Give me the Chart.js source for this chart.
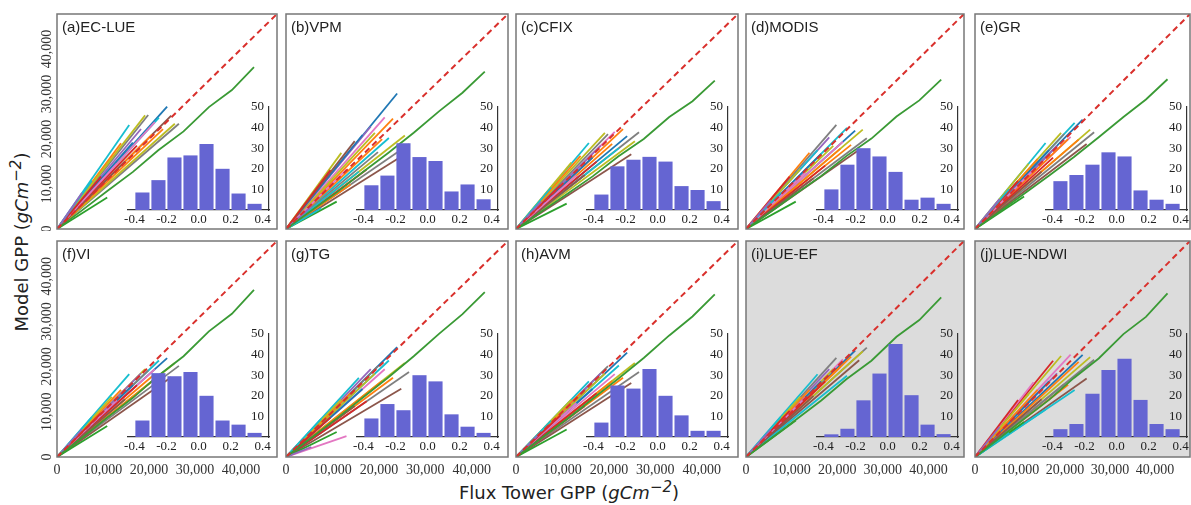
<!DOCTYPE html>
<html>
<head>
<meta charset="utf-8">
<script src="https://cdn.jsdelivr.net/npm/chart.js@4"></script>
<style>
body { margin: 0; background: #fff; }
#wrap { position: relative; width: 1191px; height: 505px; overflow: hidden; font-family: "Liberation Sans", Arial, sans-serif; color: #222; }
canvas { position: absolute; }
.tag { position: absolute; font-size: 15px; line-height: 1; white-space: nowrap; }
.ytitle, .xtitle { position: absolute; font-family: "DejaVu Sans", sans-serif; font-size: 18px; line-height: 1; white-space: nowrap; }
.ytitle { left: 20px; top: 242px; transform: translate(-50%, -50%) rotate(-90deg); }
.xtitle { left: 569px; top: 491px; transform: translate(-50%, -50%); }
</style>
</head>
<body>
<div id="wrap">
  <div class="ytitle">Model GPP (<i>gCm<sup>−2</sup></i>)</div>
  <div class="xtitle">Flux Tower GPP (<i>gCm<sup>−2</sup></i>)</div>
</div>
<script>
// panel names
const models = ['(a)EC-LUE', '(b)VPM', '(c)CFIX', '(d)MODIS', '(e)GR', '(f)VI', '(g)TG', '(h)AVM', '(i)LUE-EF', '(j)LUE-NDWI'];

// cumulative flux tower GPP at the end of each site record (same for every model)
const siteFluxGPP = [5450, 7570, 9570, 10910, 11910, 13020, 13910, 14800, 15690, 16470, 17360, 18250, 19140, 19810, 20700, 21260, 22150, 23040, 23930, 24820, 25600, 26490];
const siteColors = ['#9467bd', '#17becf', '#d62728', '#2ca02c', '#bcbd22', '#e377c2', '#ff7f0e', '#8c564b', '#17becf', '#1f77b4', '#d62728',
                    '#9467bd', '#bcbd22', '#7f7f7f', '#ff7f0e', '#e377c2', '#17becf', '#ff7f0e', '#1f77b4', '#8c564b', '#bcbd22', '#7f7f7f'];

// cumulative model GPP at the end of each site record
const ecLue   = [8030, 10760, 11660, 6980, 15720, 14540, 19070, 15030, 23100, 19230, 18510, 22240, 25270, 25340, 21020, 23740, 24740, 22220, 27210, 25200, 23390, 23400];
const vpm     = [4980, 4610, 13120, 6090, 16930, 13220, 9890, 19540, 12750, 20910, 13220, 22790, 21380, 17100, 19970, 24820, 20240, 24560, 30130, 16130, 20790, 18830];
const cfix    = [6090, 9220, 9720, 5650, 14750, 11900, 16240, 12020, 19120, 15890, 14980, 18530, 21380, 21120, 18920, 21580, 17990, 22220, 20650, 16630, 19490, 21520];
const modis   = [6370, 8070, 11660, 6090, 13300, 12560, 16950, 11270, 17530, 16720, 14100, 20380, 18460, 23130, 17870, 19420, 22490, 18710, 21870, 17640, 22090, 20170];
const gr      = [6640, 8840, 10690, 7200, 14510, 13220, 15540, 12770, 19120, 17560, 15870, 18530, 21380, 21120, 19970, 20500, 23610, 19880, 24300, 18900, 22090, 21520];
const vi      = [6090, 8840, 9720, 6870, 13300, 12560, 14830, 12770, 18320, 15890, 15870, 18530, 19440, 19110, 17870, 19420, 21360, 18710, 21870, 17640, 20790, 20170];
const tg      = [2210, 8450, 8750, 5540, 12700, 4630, 14130, 11270, 17530, 15050, 12340, 19460, 18460, 20110, 16810, 19420, 21360, 17540, 24300, 15120, 20790, 18830];
const avm     = [5540, 8070, 9230, 6090, 12700, 11900, 14130, 11270, 16730, 15050, 14100, 18530, 18460, 20110, 16810, 18350, 20240, 17540, 23080, 16380, 20790, 18830];
const lueEf   = [6090, 8840, 10200, 8080, 13300, 13220, 14830, 13530, 18320, 16720, 16750, 19460, 19440, 21920, 19970, 21580, 17990, 22220, 23570, 21420, 23390, 24200];
const lueNdwi = [6640, 5380, 12630, 7750, 13900, 16530, 14830, 12770, 10520, 16720, 21300, 18530, 22350, 16090, 15970, 22660, 14840, 21050, 22590, 17390, 22090, 21520];

// the one long record (green line)
const longSiteFlux = [0, 5500, 11000, 16500, 22000, 27500, 33000, 38000, 42800];
const ecLueLong   = [0, 4200, 8500, 12700, 17500, 21700, 27100, 30900, 36000];
const vpmLong     = [0, 4100, 8200, 12600, 16900, 21400, 26200, 30300, 35000];
const cfixLong    = [0, 3900, 7800, 11700, 16100, 20000, 24900, 28400, 33000];
const modisLong   = [0, 3900, 7900, 11800, 16200, 20100, 25000, 28600, 33200];
const grLong      = [0, 3900, 7900, 11900, 16000, 20400, 24900, 28800, 33300];
const viLong      = [0, 4300, 8800, 13100, 18000, 22300, 27800, 31700, 37000];
const tgLong      = [0, 4300, 8600, 13100, 17600, 22300, 27300, 31600, 36500];
const avmLong     = [0, 4200, 8400, 12900, 17300, 21900, 26900, 31100, 36000];
const lueEfLong   = [0, 4100, 8300, 12500, 17200, 21300, 26600, 30300, 35300];
const lueNdwiLong = [0, 4200, 8500, 12700, 17500, 21800, 27200, 31000, 36200];

// 1:1 line
const oneToOne = [0, 47800];

// relative error histograms
const histBins = [-0.35, -0.25, -0.15, -0.05, 0.05, 0.15, 0.25, 0.35];
const ecLueHist   = [8.5, 14.5, 25.5, 26.5, 32, 20, 8, 3];
const vpmHist     = [12, 16.7, 32.4, 25.7, 23.8, 9, 12.4, 5.2];
const cfixHist    = [7.5, 21.2, 24.4, 25.8, 23.5, 11.6, 9.7, 4.3];
const modisHist   = [10, 22, 30, 26, 18.5, 5, 6, 3];
const grHist      = [14, 17, 22, 28, 26, 9.5, 5, 3];
const viHist      = [8, 31, 29.5, 31.5, 20, 8, 6, 2];
const tgHist      = [9, 16, 13, 30, 27, 11, 5, 2];
const avmHist     = [7, 25, 23.5, 33, 20, 10.5, 3, 3];
const lueEfHist   = [1.3, 4, 17.8, 30.8, 45.2, 20.3, 6, 1.4];
const lueNdwiHist = [3.8, 6.3, 21, 32.5, 38, 18, 6.3, 3.8];

// tick labels
const gppTicks = [0, 10000, 20000, 30000, 40000];
const histTicks = [-0.4, -0.2, 0, 0.2, 0.4];
const countTicks = [10, 20, 30, 40, 50];

const modelEnds = [ecLue, vpm, cfix, modis, gr, vi, tg, avm, lueEf, lueNdwi];
const modelLong = [ecLueLong, vpmLong, cfixLong, modisLong, grLong, viLong, tgLong, avmLong, lueEfLong, lueNdwiLong];
const modelHist = [ecLueHist, vpmHist, cfixHist, modisHist, grHist, viHist, tgHist, avmHist, lueEfHist, lueNdwiHist];

// layout of the panel frames
const cols = [[57, 277], [286, 508], [516, 738], [746, 964], [975, 1190]];
const rows = [[14, 229], [241, 457]];
const SERIF = '"Liberation Serif", "Times New Roman", serif';
const BAR = '#6565d2';

const framePlugin = {
    id: 'frame',
    beforeDatasetsDraw(chart, args, opts) {
        const a = chart.chartArea;
        const ctx = chart.ctx;
        ctx.save();
        ctx.fillStyle = opts.bg;
        ctx.fillRect(a.left, a.top, a.right - a.left, a.bottom - a.top);
        ctx.restore();
    },
    afterDraw(chart) {
        const a = chart.chartArea;
        const ctx = chart.ctx;
        ctx.save();
        ctx.strokeStyle = '#777';
        ctx.lineWidth = 1.5;
        ctx.strokeRect(a.left, a.top, a.right - a.left, a.bottom - a.top);
        ctx.restore();
    }
};

// rotated y tick labels (read bottom to top, like the original)
const yLabelPlugin = {
    id: 'yLabels',
    afterDraw(chart, args, opts) {
        if (!opts.show) return;
        const s = chart.scales.y;
        const ctx = chart.ctx;
        ctx.save();
        ctx.font = '14px ' + SERIF;
        ctx.fillStyle = '#333';
        ctx.textAlign = 'center';
        ctx.textBaseline = 'middle';
        s.ticks.forEach((t, i) => {
            ctx.save();
            ctx.translate(s.right - 10, s.getPixelForTick(i));
            ctx.rotate(-Math.PI / 2);
            ctx.fillText(t.label, 0, 0);
            ctx.restore();
        });
        ctx.restore();
    }
};

const wrap = document.getElementById('wrap');

function addCanvas(left, top, width, height) {
    const c = document.createElement('canvas');
    c.width = width;
    c.height = height;
    c.style.left = left + 'px';
    c.style.top = top + 'px';
    c.style.width = width + 'px';
    c.style.height = height + 'px';
    wrap.appendChild(c);
    return c;
}

function drawPanel(m) {
    const r = Math.floor(m / 5), c = m % 5;
    const [fl, fr] = cols[c];
    const [ft, fb] = rows[r];
    const padL = c === 0 ? 24 : 6, padR = 8, padT = 2, padB = r === 1 ? 26 : 2;
    const canvas = addCanvas(fl - padL, ft - padT, fr - fl + padL + padR, fb - ft + padT + padB);

    const datasets = [{
        data: oneToOne.map(v => ({ x: v, y: v })),
        borderColor: '#d9302c', borderWidth: 2, borderDash: [6, 4]
    }];
    datasets.push({
        data: longSiteFlux.map((x, i) => ({ x: x, y: modelLong[m][i] })),
        borderColor: '#3a9a35', borderWidth: 1.8
    });
    siteFluxGPP.forEach((x, i) => {
        datasets.push({
            data: [{ x: 0, y: 0 }, { x: x, y: modelEnds[m][i] }],
            borderColor: siteColors[i], borderWidth: 1.8
        });
    });

    new Chart(canvas.getContext('2d'), {
        type: 'scatter',
        data: { datasets: datasets },
        options: {
            responsive: false,
            animation: false,
            events: [],
            showLine: true,
            elements: { point: { radius: 0 } },
            layout: { padding: { left: 0, right: padR, top: padT, bottom: 0 } },
            plugins: {
                legend: { display: false },
                tooltip: { enabled: false },
                frame: { bg: m >= 8 ? '#dcdcdc' : '#ffffff' },
                yLabels: { show: c === 0 }
            },
            scales: {
                x: {
                    type: 'linear', min: 0, max: 47800,
                    grid: { display: false, drawTicks: false }, border: { display: false },
                    afterBuildTicks: s => { s.ticks = gppTicks.map(v => ({ value: v })); },
                    ticks: { display: r === 1, font: { family: SERIF, size: 14 }, color: '#333', padding: 5, maxRotation: 0, autoSkip: false },
                    afterFit: s => { s.height = padB; s.paddingLeft = 0; s.paddingRight = 0; }
                },
                y: {
                    type: 'linear', min: 0, max: 47800,
                    grid: { display: false, drawTicks: false }, border: { display: false },
                    afterBuildTicks: s => { s.ticks = gppTicks.map(v => ({ value: v })); },
                    ticks: { display: false },
                    afterFit: s => { s.width = padL; s.paddingTop = 0; s.paddingBottom = 0; }
                }
            }
        },
        plugins: [framePlugin, yLabelPlugin]
    });

    const tag = document.createElement('div');
    tag.className = 'tag';
    tag.textContent = models[m];
    tag.style.left = (fl + 5) + 'px';
    tag.style.top = (ft + 5) + 'px';
    wrap.appendChild(tag);
}

function drawInset(m) {
    const r = Math.floor(m / 5), c = m % 5;
    const fl = cols[c][0], ft = rows[r][0];
    const aL = fl + 71, aR = fl + 212, aT = ft + 93, aB = ft + 196;
    const pl = 8, pr = 4, pt = 9, pb = 18;
    const canvas = addCanvas(aL - pl, aT - pt, aR - aL + pl + pr, aB - aT + pt + pb);

    new Chart(canvas.getContext('2d'), {
        type: 'bar',
        data: {
            datasets: [{
                data: histBins.map((b, i) => ({ x: b, y: modelHist[m][i] })),
                backgroundColor: BAR,
                barPercentage: 0.88,
                categoryPercentage: 1
            }]
        },
        options: {
            responsive: false,
            animation: false,
            events: [],
            layout: { padding: { left: pl, right: pr, top: pt, bottom: 0 } },
            plugins: { legend: { display: false }, tooltip: { enabled: false } },
            scales: {
                x: {
                    type: 'linear', min: -0.44, max: 0.44, offset: false,
                    grid: { display: false, drawTicks: false },
                    border: { display: true, color: '#333', width: 1.2 },
                    afterBuildTicks: s => { s.ticks = histTicks.map(v => ({ value: v })); },
                    ticks: { font: { family: SERIF, size: 13 }, color: '#222', padding: 2, maxRotation: 0, autoSkip: false,
                             callback: v => v.toFixed(1) },
                    afterFit: s => { s.height = pb; s.paddingLeft = 0; s.paddingRight = 0; }
                },
                y: {
                    position: 'right', min: 0, max: 50,
                    grid: { display: false, drawTicks: false },
                    border: { display: true, color: '#333', width: 1.2 },
                    afterBuildTicks: s => { s.ticks = countTicks.map(v => ({ value: v })); },
                    ticks: { mirror: true, padding: -5, font: { family: SERIF, size: 13 }, color: '#222' },
                    afterFit: s => { s.width = 0; s.paddingTop = 0; s.paddingBottom = 0; }
                }
            }
        }
    });
}

for (let m = 0; m < models.length; m++) drawPanel(m);
for (let m = 0; m < models.length; m++) drawInset(m);
</script>
</body>
</html>
